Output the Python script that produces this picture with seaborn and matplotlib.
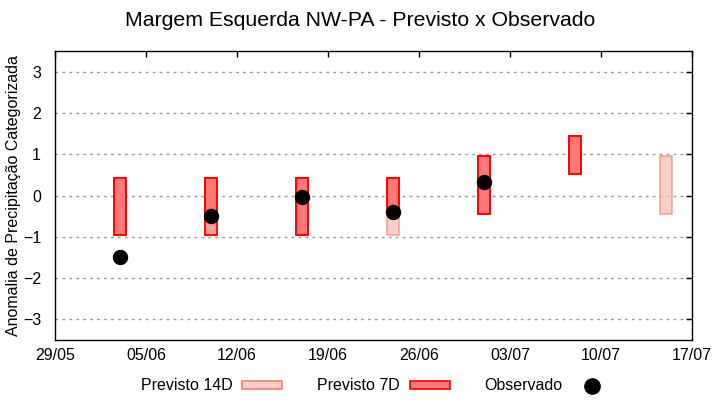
import matplotlib
matplotlib.use("Agg")
import matplotlib.pyplot as plt
import matplotlib.dates as mdates
from matplotlib.patches import Patch
from matplotlib.lines import Line2D
import seaborn as sns
import pandas as pd
import numpy as np

# dados
datas = ["2024-06-03", "2024-06-10", "2024-06-17", "2024-06-24",
         "2024-07-01", "2024-07-08", "2024-07-15"]
p7_min = [-0.95, -0.95, -0.95, -0.40, -0.44, 0.51, np.nan]
p7_max = [0.43, 0.43, 0.43, 0.43, 0.95, 1.44, np.nan]
p14_min = [np.nan, -0.95, np.nan, -0.95, np.nan, np.nan, -0.45]
p14_max = [np.nan, -0.50, np.nan, -0.40, np.nan, np.nan, 0.95]
observado = [-1.50, -0.50, -0.03, -0.40, 0.33, np.nan, np.nan]
ticks_x = ["2024-05-29", "2024-06-05", "2024-06-12", "2024-06-19",
           "2024-06-26", "2024-07-03", "2024-07-10", "2024-07-17"]

df = pd.DataFrame({
    "data": pd.to_datetime(datas),
    "p7_min": p7_min, "p7_max": p7_max,
    "p14_min": p14_min, "p14_max": p14_max,
    "obs": observado,
})

sns.set_theme(style="white")
plt.rcParams["font.family"] = ["Liberation Sans", "DejaVu Sans"]
plt.rcParams["text.color"] = "black"
plt.rcParams["axes.labelcolor"] = "black"

fig = plt.figure(figsize=(7.2, 4.0), dpi=100)
ax = fig.add_axes([0.0764, 0.15, 0.885, 0.7225])

cor7, borda7 = "#ff7777", "#ff0000"
cor14, borda14 = "#fab5aa", "#f08070"
larg = 0.95

# preenchimento 7D, depois 14D semitransparente, depois contorno 7D por cima
ax.bar(df["data"], df["p7_max"] - df["p7_min"], bottom=df["p7_min"], width=larg,
       color=cor7, edgecolor=borda7, linewidth=1.2, zorder=2)
ax.bar(df["data"], df["p14_max"] - df["p14_min"], bottom=df["p14_min"], width=larg,
       color=cor14, alpha=0.65, edgecolor=borda14, linewidth=1.2, zorder=3)
ax.bar(df["data"], df["p7_max"] - df["p7_min"], bottom=df["p7_min"], width=larg,
       fill=False, edgecolor=borda7, linewidth=1.2, zorder=3.5)
sns.scatterplot(data=df, x="data", y="obs", color="black", s=105,
                edgecolor="black", ax=ax, zorder=4, legend=False)

ax.set_xlim(pd.Timestamp(ticks_x[0]), pd.Timestamp(ticks_x[-1]))
ax.set_xticks(pd.to_datetime(ticks_x))
ax.xaxis.set_major_formatter(mdates.DateFormatter("%d/%m"))
ax.set_ylim(-3.5, 3.5)
ax.set_yticks([-3, -2, -1, 0, 1, 2, 3])
ax.yaxis.grid(True, linestyle=(0, (2, 3)), color="#999999", linewidth=1)
ax.set_axisbelow(True)
ax.tick_params(direction="in", top=True, right=True, length=4, width=1,
               labelsize=11.5, colors="black", pad=6)
ax.tick_params(axis="y", pad=10)
for s in ax.spines.values():
    s.set_color("black")
    s.set_linewidth(1)

ax.set_xlabel("")
ax.set_ylabel("Anomalia de Precipitação Categorizada", fontsize=11.5, labelpad=1)
fig.suptitle("Margem Esquerda NW-PA - Previsto x Observado", fontsize=15.3, y=0.972)

handles = [
    Patch(facecolor="#fccfc8", edgecolor=borda14, linewidth=1.2),
    Patch(facecolor=cor7, edgecolor=borda7, linewidth=1.2),
    Line2D([], [], marker="o", color="black", linestyle="none", markersize=11),
]
fig.legend(handles, ["Previsto 14D", "Previsto 7D", "Observado"],
           loc="center", bbox_to_anchor=(0.523, 0.035), ncol=3, frameon=False,
           markerfirst=False, handlelength=2.5, handleheight=0.4,
           columnspacing=2.2, handletextpad=0.6, fontsize=11.5)

fig.savefig("out.png", dpi=100)
